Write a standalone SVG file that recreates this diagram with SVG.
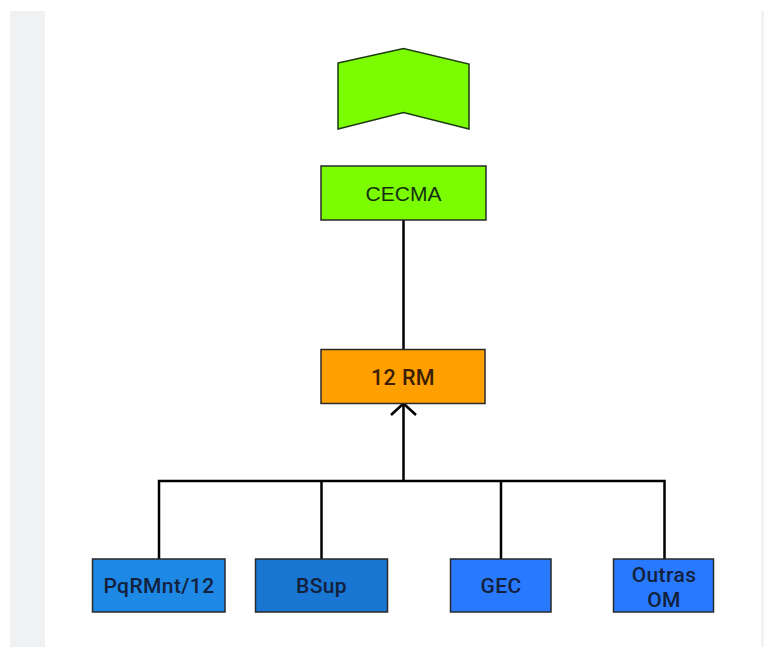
<svg xmlns="http://www.w3.org/2000/svg" width="764" height="647" viewBox="0 0 764 647">
<style>
.box{stroke:#2a2a2a;stroke-width:1.5}
.lbl{font-family:Roboto,"Liberation Sans",sans-serif;font-size:21px;font-weight:500;letter-spacing:0.4px;fill:#13213d;text-anchor:middle;dominant-baseline:central}
.conn{stroke:#000;fill:none;stroke-width:2.5}
</style>
<rect x="0" y="0" width="764" height="647" fill="#ffffff"/>
<rect x="10" y="11" width="35" height="636" fill="#f0f1f3"/>
<rect x="761" y="11" width="3" height="636" fill="#f2f2f2"/>
<g id="chevron">
<polygon points="338,63 403.5,48.5 469,64 469,129 403.5,112.5 338,129" fill="#7CFC00" stroke="#1e3a10" stroke-width="1.5"/>
</g>
<g id="connectors">
<line x1="403.5" y1="220" x2="403.5" y2="349" class="conn" stroke-width="2.5"/>
<line x1="403.5" y1="481" x2="403.5" y2="405" class="conn" stroke-width="3.5"/>
<polyline points="391,415 403.5,403.5 416,415" class="conn" stroke-width="2.5"/>
<polyline points="159,559 159,481 664.5,481 664.5,559" class="conn" stroke-width="2.5"/>
<line x1="321.5" y1="481" x2="321.5" y2="559" class="conn" stroke-width="2.5"/>
<line x1="501" y1="481" x2="501" y2="559" class="conn" stroke-width="2.5"/>
</g>
<g id="cecma">
<rect x="321" y="166" width="165" height="54" fill="#7CFC00" class="box" stroke="#1e3a10"/>
<text x="403.5" y="193" class="lbl" style="font-family:'Liberation Sans',Arial,sans-serif;font-weight:400;font-size:21px;letter-spacing:0;fill:#143010">CECMA</text>
</g>
<g id="rm12">
<rect x="321" y="349.5" width="164" height="54" fill="#FFA000" class="box"/>
<text x="403" y="377" class="lbl" style="fill:#3a1e05;font-size:21.5px">12 RM</text>
</g>
<g id="pqrmnt">
<rect x="92.5" y="559" width="132.5" height="53" fill="#1E88E5" class="box"/>
<text x="159" y="586" class="lbl">PqRMnt/12</text>
</g>
<g id="bsup">
<rect x="255.5" y="559" width="132" height="53" fill="#1976D2" class="box"/>
<text x="321.5" y="586" class="lbl">BSup</text>
</g>
<g id="gec">
<rect x="450.5" y="559" width="100.5" height="53" fill="#2979FF" class="box"/>
<text x="501" y="586" class="lbl">GEC</text>
</g>
<g id="outras">
<rect x="613.5" y="559" width="100" height="53" fill="#2979FF" class="box"/>
<text x="664" y="575" class="lbl">Outras</text>
<text x="664" y="600" class="lbl">OM</text>
</g>
</svg>
